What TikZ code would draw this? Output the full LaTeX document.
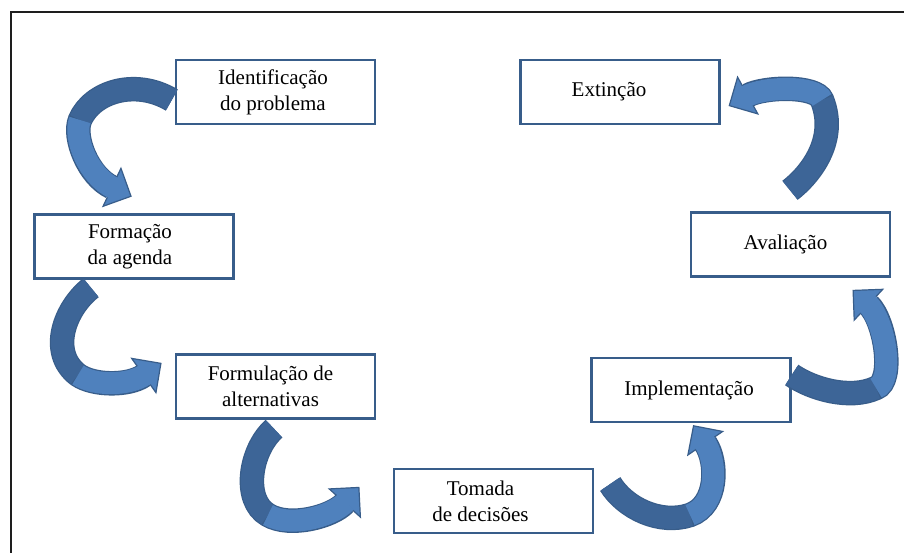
\documentclass[tikz,border=0pt]{standalone}
\usepackage{fontspec}
\setmainfont{Liberation Serif}
\usetikzlibrary{calc}
\definecolor{clrEdge}{RGB}{56,93,138}
\definecolor{clrDark}{RGB}{61,101,151}
\definecolor{clrLight}{RGB}{79,129,189}
\definecolor{clrFrame}{RGB}{30,30,30}

\tikzset{
  stagebox/.style={draw=clrEdge,line width=2.4pt,minimum width=199pt,minimum height=64pt,inner sep=0pt},
  stagetext/.style={align=center,font=\fontsize{21}{26}\selectfont,inner sep=0pt},
  bandedge/.style={draw=clrEdge,line width=24.5pt},
  banddark/.style={draw=clrDark,line width=22pt},
  bandlight/.style={draw=clrLight,line width=22pt},
  headtip/.style={fill=clrLight,draw=clrEdge,line width=1.2pt,line join=miter},
}

% tail, c1, c2, twist, c3, c4, head base
\newcommand{\stagearrow}[7]{%
  \draw[bandedge] (#1) .. controls (#2) and (#3) .. (#4) .. controls (#5) and (#6) .. (#7);
  \filldraw[headtip] ($(#7)!21pt!90:(#6)$) -- ($(#7)!-21pt!(#6)$) -- ($(#7)!21pt!-90:(#6)$) -- cycle;
  \draw[banddark] (#1) .. controls (#2) and (#3) .. (#4);
  \draw[bandlight] (#4) .. controls (#5) and (#6) .. ($(#7)!-2pt!(#6)$);
}

\begin{document}
\begin{tikzpicture}[x=1pt,y=-1pt]
  \useasboundingbox (0,0) rectangle (904,552);
  \draw[clrFrame,line width=1.8pt] (11,560) |- (910,12);

  % stages of the cycle
  \foreach \name/\x/\y/\dx/\txt in {%
    ident/275.5/92/-2.5/{Identificação\\do problema},
    agenda/134/246.5/-4/{Formação\\da agenda},
    altern/275.5/386.5/-5/{Formulação de\\alternativas},
    decis/493.5/501/-13/{Tomada\\de decisões},
    implem/691/390/-2/{Implementação},
    aval/790.5/244.5/-5/{Avaliação},
    extin/620/92/-11/{Extinção}}{
      \node[stagebox] (\name) at (\x,\y) {};
      \node[stagetext] (\name-t) at ([xshift=\dx pt]\name.center) {\txt};
  }

  % arrow ends
  \coordinate (t1) at ($(ident.west)+(-3,8)$);
  \coordinate (h1) at ($(agenda.north)+(-22,-26)$);
  \coordinate (t2) at ($(agenda.south)+(-43,8)$);
  \coordinate (h2) at ($(altern.west)+(-31,-11)$);
  \coordinate (t3) at ($(altern.south)+(-1.5,9)$);
  \coordinate (h3) at ($(decis.west)+(-48,2)$);
  \coordinate (t4) at ($(decis.east)+(16,-17)$);
  \coordinate (h4) at ($(implem.south)+(14.3,20)$);
  \coordinate (t5) at ($(implem.east)+(0,-15)$);
  \coordinate (h5) at ($(aval.south)+(78,27)$);
  \coordinate (t6) at ($(aval.north)+(-0.5,-21)$);
  \coordinate (h6) at ($(extin.east)+(27,3.5)$);

  % curved arrows
  \stagearrow{t1}{135,78}{92,92}{80,120}{73,137}{88,176}{h1}
  \stagearrow{t2}{65,308}{48,352}{78,375}{94,386}{129,386}{h2}
  \stagearrow{t3}{250,450}{242,500}{268,515}{290,528}{332.6,516.5}{h3}
  \stagearrow{t4}{625,508}{660,525}{690,515}{718,505}{718,462}{h4}
  \stagearrow{t5}{812,389}{850,400}{876,388}{895,381}{885,320}{h5}
  \stagearrow{t6}{810,175}{838,140}{822,100}{816,85}{763.7,86.7}{h6}
\end{tikzpicture}
\end{document}
